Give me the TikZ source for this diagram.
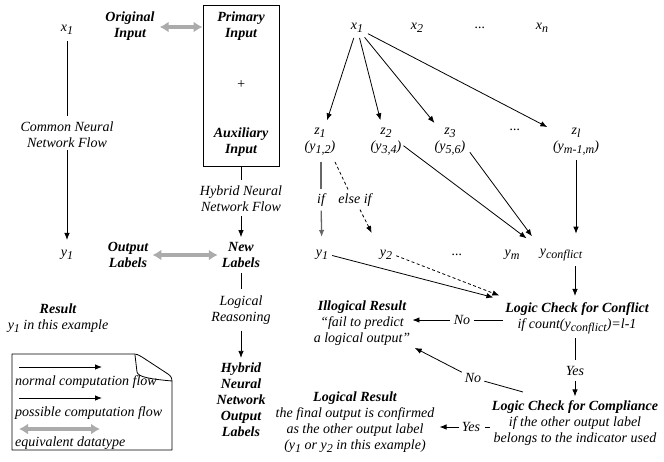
\documentclass[tikz,border=0pt]{standalone}
\usepackage{fontspec}
\setmainfont{Liberation Serif}
\usetikzlibrary{arrows.meta,calc}
\newcommand\dsub[1]{\raisebox{-0.5ex}{\fontsize{12}{12}\selectfont #1}}
\newcommand\bt[1]{{\bfseries\fontsize{14}{16}\selectfont #1}}
\tikzset{
  txt/.style={font=\fontsize{14}{16}\selectfont\itshape, align=center, inner sep=2pt},
  ttl/.style={font=\fontsize{14}{16}\selectfont\bfseries\itshape, align=center, inner sep=2pt},
  flow/.style={line width=0.8pt, draw=black},
  arr/.style={flow, -{Latex[length=7pt,width=5.5pt]}},
  darr/.style={arr, dashed, dash pattern=on 3pt off 2.5pt},
  gline/.style={line width=1.3pt, draw=black!60},
  garr/.style={gline, -{Latex[length=7pt,width=5.5pt]}},
  equiv/.style={line width=3.4pt, draw=black!33, {Latex[length=9pt,width=11pt]}-{Latex[length=9pt,width=11pt]}},
}
\begin{document}
\begin{tikzpicture}[x=1pt,y=-1pt]
\useasboundingbox (0,0) rectangle (664,461);

% ---------- left column ----------
\node[txt] (lx1) at (67,30) {x\dsub{1}};
\node[txt] (cnn) at (67,135) {Common Neural\\Network Flow};
\node[txt] (ly1) at (67,255) {y\dsub{1}};
\draw[flow, shorten <=4pt, shorten >=4pt] (lx1) -- (cnn);
\draw[arr, shorten >=8pt] (cnn) -- (ly1);

\node[ttl] (oi) at (130,26) {Original\\Input};
\node[draw, line width=0.8pt, minimum width=76pt, minimum height=161pt, inner sep=0pt] (box) at (241,86) {};
\node[ttl] (pi) at (241,26) {Primary\\Input};
\node[txt] (plus) at (241,85) {+};
\node[ttl] (ai) at (241,142) {Auxiliary\\Input};
\draw[equiv, shorten <=3pt, shorten >=0pt] (oi.east |- 0,27) -- (box.west |- 0,27);

\node[txt] (hnn) at (241,199) {Hybrid Neural\\Network Flow};
\node[ttl] (nl) at (241,255) {New\\Labels};
\node[ttl] (ol) at (128,255) {Output\\Labels};
\draw[flow, shorten >=4pt] (box.south) -- (hnn);
\draw[arr, shorten <=2pt, shorten >=3pt] (hnn) -- (nl);
\draw[equiv, shorten <=2pt, shorten >=2pt] (ol.east) -- (nl.west);

\node[txt] (lreas) at (241,310) {Logical\\Reasoning};
\node[ttl] (hnol) at (241,400) {Hybrid\\Neural\\Network\\Output\\Labels};
\draw[flow, shorten <=3pt, shorten >=4pt] (nl) -- (lreas);
\draw[arr, shorten <=4pt, shorten >=3pt] (lreas) -- (hnol);

\node[txt] (res) at (58,318) {\bt{Result}\\y\dsub{1} in this example};

% legend
\draw[line width=0.8pt] (12,354) -- (133,354) .. controls (137,354) and (139,355) .. (142,357)
  -- (168,374) .. controls (171,376) and (172,378) .. (172,382) -- (172,450) -- (12,450) -- cycle;
\draw[line width=0.8pt] (135,355) -- (137,372) .. controls (138,377) and (150,379) .. (172,381);
\coordinate (la1) at (19,367); \coordinate (lb1) at (102,367);
\coordinate (la2) at (19,398); \coordinate (lb2) at (102,398);
\coordinate (la3) at (19,429); \coordinate (lb3) at (100,429);
\draw[arr] (la1) -- (lb1);
\draw[arr] (la2) -- (lb2);
\draw[equiv] (la3) -- (lb3);
\node[txt, anchor=west] (lt1) at (13,382) {normal computation flow};
\node[txt, anchor=west] (lt2) at (13,413) {possible computation flow};
\node[txt, anchor=west] (lt3) at (13,443) {equivalent datatype};

% ---------- right part ----------
\node[txt] (rx1) at (357,28) {x\dsub{1}};
\node[txt] (rx2) at (417,28) {x\dsub{2}};
\node[txt] (rxd) at (480,28) {...};
\node[txt] (rxn) at (542,28) {x\dsub{n}};

\node[txt] (z1) at (320,142) {z\dsub{1}\\(y\dsub{1,2})};
\node[txt] (z2) at (386,142) {z\dsub{2}\\(y\dsub{3,4})};
\node[txt] (z3) at (450,142) {z\dsub{3}\\(y\dsub{5,6})};
\node[txt] (zd) at (515,130) {...};
\node[txt] (zl) at (576,142) {z\dsub{l}\\(y\dsub{m-1,m})};

\draw[arr, shorten <=3pt, shorten >=6pt] (rx1) -- (z1);
\draw[arr, shorten <=3pt, shorten >=6pt] (rx1) -- (z2);
\draw[arr, shorten <=3pt, shorten >=4pt] (rx1) -- (z3);
\draw[arr, shorten <=3pt, shorten >=4pt] (rx1) -- (zl);

\node[txt] (ifn) at (321,200) {if};
\node[txt] (elif) at (355,200) {else if};
\node[txt] (ry1) at (322,255) {y\dsub{1}};
\node[txt] (ry2) at (386,255) {y\dsub{2}};
\node[txt] (ryd) at (457,255) {...};
\node[txt] (rym) at (512,255) {y\dsub{m}};
\node[txt] (ryc) at (561,255) {y\dsub{conflict}};

\draw[gline, shorten <=4pt, shorten >=2pt] (z1.south -| ifn) -- (ifn);
\draw[garr, shorten <=2pt, shorten >=11pt] (ifn) -- (ry1);
\draw[flow, dashed, dash pattern=on 3pt off 2.5pt] ($(z1.south)+(15,4)$) -- ($(elif.north)+(-7,-2)$);
\draw[darr] ($(elif.south)+(5,1)$) -- ($(ry2.north west)+(-6,-15)$);

\draw[arr, shorten >=14pt] (z2.-12) -- (ryc.north west);
\draw[arr, shorten <=4pt, shorten >=13pt] (z3.-22) -- ($(ryc.north west)+(2,0)$);
\draw[arr, shorten <=2pt, shorten >=13pt] (zl.south) -- (zl.south |- ryc.north);

\node[txt] (lcc) at (577,318) {\bt{Logic Check for Conflict}\\if count(y\dsub{conflict})=l-1};
\node[txt] (ill) at (362,323) {\bt{Illogical Result}\\``fail to predict\\a logical output''};
\node[txt] (lcp) at (575,423) {\bt{Logic Check for Compliance}\\if the other output label\\belongs to the indicator used};
\node[txt] (lres) at (355,422) {\bt{Logical Result}\\the final output is confirmed\\as the other output label\\(y\dsub{1} or y\dsub{2} in this example)};

\draw[arr, shorten <=2pt, shorten >=10pt] (ry1.east) -- (lcc.north west);
\draw[darr, shorten <=2pt, shorten >=4pt] (ry2.east) -- ($(lcc.north west)+(0,-3)$);
\draw[arr, shorten <=3pt, shorten >=4pt] (ryc.south -| lcp.north) -- (lcc.north -| lcp.north);

\node[txt] (no1) at (462,320) {No};
\draw[flow, shorten >=2pt] (lcc.west |- no1) -- (no1);
\draw[arr, shorten <=2pt] (no1) -- (ill.east |- no1);

\node[txt] (yes1) at (575,371) {Yes};
\draw[flow, shorten <=2pt, shorten >=4pt] (lcc.south -| yes1) -- (yes1);
\draw[arr, shorten <=3pt, shorten >=2pt] (yes1) -- (lcp.north);

\node[txt] (no2) at (473,378) {No};
\coordinate (lcpnw) at (523,392);
\coordinate (illse) at (413,347);
\draw[flow, shorten >=1pt] (lcpnw) -- (no2);
\draw[arr, shorten <=1pt, shorten >=2pt] (no2) -- (illse);

\node[txt] (yes2) at (471,427) {Yes};
\draw[flow] ([xshift=3pt]yes2.east) -- ++(5,0);
\draw[arr, shorten <=1pt, shorten >=3pt] (yes2) -- (lres.east |- yes2);
\end{tikzpicture}
\end{document}
